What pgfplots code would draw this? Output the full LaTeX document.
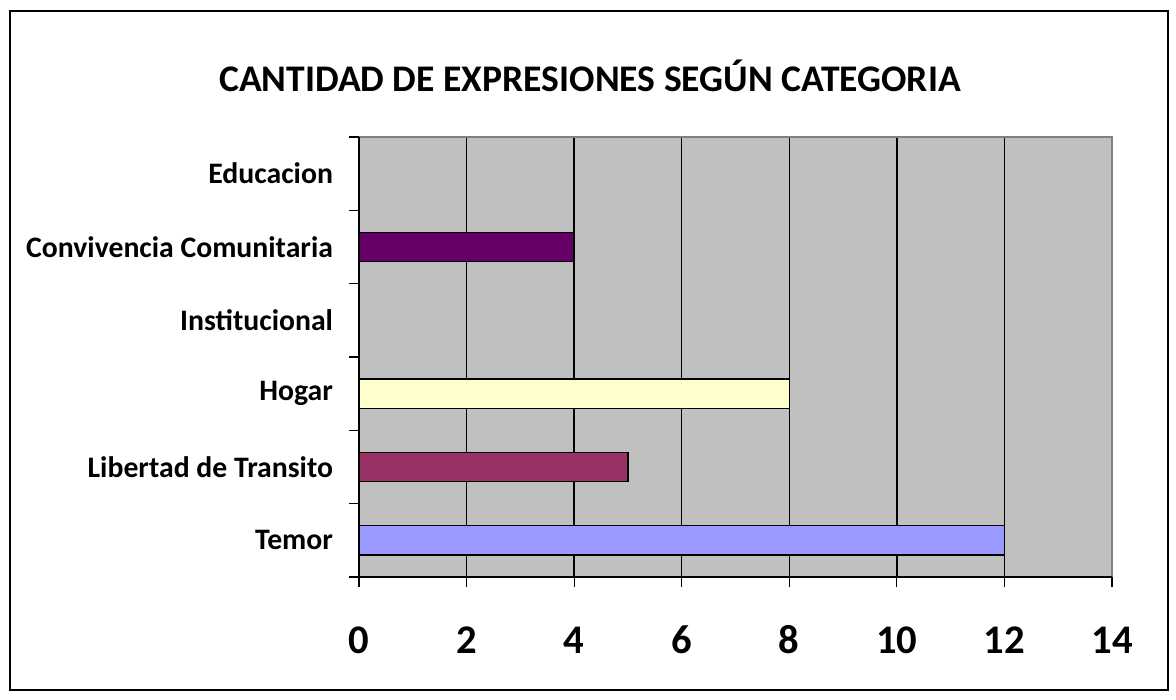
\documentclass[border=0pt]{standalone}
\usepackage{fontspec}
\setmainfont{Carlito}
\usepackage{pgfplots}
\pgfplotsset{compat=1.18}
\definecolor{bggray}{HTML}{C0C0C0}
\definecolor{edgegray}{HTML}{808080}
\definecolor{cTemor}{HTML}{9999FF}
\definecolor{cLib}{HTML}{993366}
\definecolor{cHogar}{HTML}{FFFFCC}
\definecolor{cConv}{HTML}{660066}
\begin{document}
\begin{tikzpicture}
\path[use as bounding box] (0,0) rectangle (882pt,524.25pt);
\draw[line width=1.5pt] (7.5pt,6.75pt) rectangle (876pt,516pt);
\node[anchor=base,font=\fontsize{28.2}{34}\selectfont\bfseries] at (442.5pt,455.25pt) {CANTIDAD DE EXPRESIONES SEGÚN CATEGORIA};
\begin{axis}[
  at={(269.25pt,91.5pt)}, anchor=south west,
  scale only axis, width=564.75pt, height=330pt,
  xmin=0, xmax=14, ymin=-0.5, ymax=5.5,
  xtick={0,2,...,14},
  ytick={-0.5,0.5,...,5.5},
  yticklabels={},
  extra y ticks={0,...,5},
  extra y tick labels={Temor, Libertad de Transito, Hogar, Institucional, Convivencia Comunitaria, Educacion},
  extra y tick style={major tick length=0pt, tick style={draw=none},
    yticklabel style={font=\fontsize{22.3}{26}\selectfont\bfseries, anchor=east, xshift=-16pt}},
  xtick pos=bottom, ytick pos=left,
  tick align=outside,
  major tick length=7.5pt,
  ytick style={black, line width=0.9pt},
  xtick style={black, line width=0.9pt},
  xmajorgrids, major grid style={black, line width=1.1pt},
  axis line style={draw=none},
  axis background/.style={fill=bggray},
  /pgf/number format/assume math mode=true,
  xticklabel style={font=\fontsize{30.5}{36}\selectfont\bfseries, anchor=base, yshift=-49.5pt},
  xbar, bar width=0.4, bar shift=0pt,
  clip=false,
]
\addplot[fill=cTemor, draw=black, line width=1pt] coordinates {(12,0)};
\addplot[fill=cLib, draw=black, line width=1pt] coordinates {(5,1)};
\addplot[fill=cHogar, draw=black, line width=1pt] coordinates {(8,2)};
\addplot[fill=cConv, draw=black, line width=1pt] coordinates {(4,4)};
\draw[edgegray, line width=1pt] (rel axis cs:0,1) -- (rel axis cs:1,1) -- (rel axis cs:1,0);
\draw[black, line width=1.1pt] (rel axis cs:0,1) -- (rel axis cs:0,0) -- (rel axis cs:1,0);
\end{axis}
\end{tikzpicture}
\end{document}
